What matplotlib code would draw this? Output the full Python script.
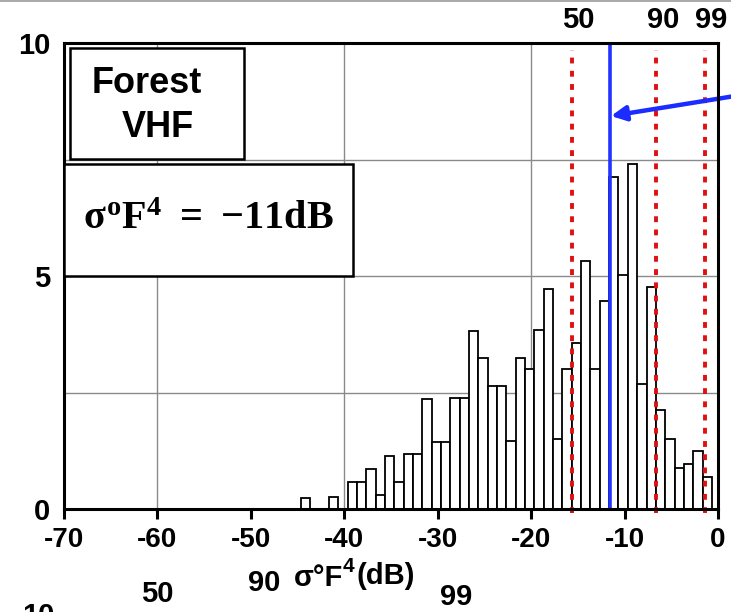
"""Forest VHF sigma0 F^4 histogram with percentile markers."""
import matplotlib
matplotlib.use("Agg")
import matplotlib.pyplot as plt
from matplotlib.patches import Rectangle
from matplotlib.lines import Line2D

W, H = 731, 612

# 1 dB bins (left edge) and bar heights
bin_lo = list(range(-45, -1))
heights = [0.23, 0, 0, 0.25, 0,
           0.57, 0.57, 0.85, 0.29, 1.14, 0.57, 1.17, 1.17, 2.36, 1.44,
           1.44, 2.39, 2.39, 3.83, 3.25, 2.64, 2.63, 1.46, 3.24, 3.01,
           3.85, 4.73, 1.50, 3.01, 3.57, 5.33, 3.00, 4.46, 7.12, 5.03,
           7.40, 2.69, 4.76, 2.12, 1.51, 0.89, 0.96, 1.25, 0.69]

mean_db = -11.6
pct_labels = ["50", "90", "99"]
pct_db = [-15.6, -6.6, -1.4]

xticks = list(range(-70, 1, 10))
xticklabels = ["-70", "-60", "-50", "-40", "-30", "-20", "-10", "0"]
yticks = [0, 5, 10]

SANS = ["Liberation Sans", "DejaVu Sans"]
plt.rcParams["mathtext.fontset"] = "custom"
plt.rcParams["mathtext.rm"] = "Liberation Serif:bold"
plt.rcParams["mathtext.it"] = "Liberation Serif:bold"
plt.rcParams["mathtext.bf"] = "Liberation Serif:bold"


def px(x, y):
    return x / W, 1 - y / H


def label(x, y, s, size, **kw):
    kw.setdefault("ha", "center")
    kw.setdefault("va", "center")
    fig.text(*px(x, y), s, fontsize=size, fontweight="bold", family=SANS, **kw)


fig = plt.figure(figsize=(W / 100, H / 100), dpi=100)
ax = fig.add_axes([64 / W, (H - 509) / H, 654 / W, (509 - 43) / H])
ax.set_xlim(-70, 0)
ax.set_ylim(0, 10)

# grid
for gx in (-60, -40, -20):
    ax.axvline(gx, color="#8a8a8a", lw=1.0, zorder=0)
for gy in (2.5, 5, 7.5):
    ax.axhline(gy, color="#8a8a8a", lw=1.0, zorder=0)

# histogram
shift = 0.35
bx = [b + shift for b, h in zip(bin_lo, heights) if h > 0]
bh = [h for h in heights if h > 0]
ax.bar(bx, bh, width=1.0, align="edge", color="white",
       edgecolor="black", linewidth=1.3, zorder=2)

# percentile lines + labels
for lab, x in zip(pct_labels, pct_db):
    ax.plot([x, x], [-0.08, 9.85], color="#e01010", lw=2.8,
            dashes=(1.5, 1.9), clip_on=False, zorder=3)
    ax.text(x + 0.7, 10.5, lab, ha="center", va="center", fontsize=21,
            fontweight="bold", family=SANS)

ax.plot([mean_db, mean_db], [0, 10], color="#2233ff", lw=2.6, zorder=3)

for s in ax.spines.values():
    s.set_linewidth(2.2)
    s.set_zorder(6)

ax.set_xticks(xticks)
ax.set_xticklabels(xticklabels, fontsize=20, fontweight="bold", family=SANS)
ax.set_yticks(yticks)
ax.set_yticklabels([str(v) for v in yticks], fontsize=21, fontweight="bold",
                   family=SANS)
ax.tick_params(axis="x", direction="out", length=7, width=2.2, pad=6)
ax.tick_params(axis="y", length=0, pad=10)

# annotation boxes
ax.add_patch(Rectangle((-69.36, 7.52), 18.63, 2.37, fc="white", ec="black",
                       lw=1.8, zorder=7, clip_on=False))
ax.text(-61.1, 9.14, "Forest", ha="center", va="center", fontsize=26,
        fontweight="bold", family=SANS, zorder=8)
ax.text(-60.0, 8.18, "VHF", ha="center", va="center", fontsize=26,
        fontweight="bold", family=SANS, zorder=8)

ax.add_patch(Rectangle((-70, 4.99), 30.94, 2.42, fc="white", ec="black",
                       lw=1.8, zorder=7, clip_on=False))
ax.text(-54.5, 6.25,
        r"$\sigma^{\mathrm{o}}\mathrm{F}^{4}\ =\ {-}11\mathrm{dB}$",
        ha="center", va="center", fontsize=29, zorder=8)

# blue arrow pointing at the mean line
ax.annotate("", xy=px(611, 116), xycoords="figure fraction",
            xytext=px(735, 96), textcoords="figure fraction",
            arrowprops=dict(arrowstyle="-|>", color="#1a2cff", lw=3.2,
                            mutation_scale=22, shrinkA=0, shrinkB=0))

# axis title (superscript 4 drawn on its own) and leftover slide fragments
label(343, 578, "σ°F", 21, ha="right")
label(343, 566, "4", 15, ha="left")
label(357, 576, "(dB)", 21, ha="left")
label(264, 583, "90", 21)
label(157, 594, "50", 21)
label(456, 597, "99", 21)
label(38, 616, "10", 21)
fig.add_artist(Line2D([0, 1], [1 - 1 / H, 1 - 1 / H], color="#999999",
                      lw=1.2, transform=fig.transFigure))

fig.savefig("out.png", dpi=100)
plt.close(fig)
